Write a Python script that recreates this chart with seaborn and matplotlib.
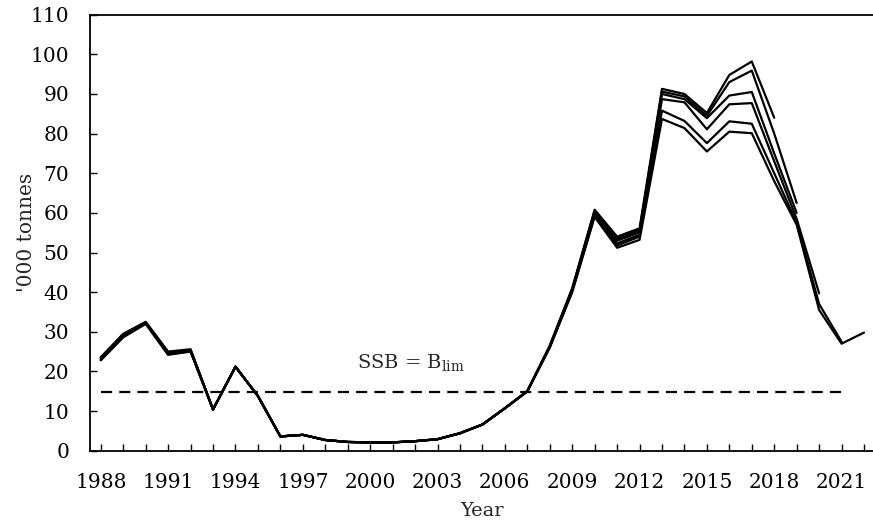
import matplotlib
matplotlib.use("Agg")
import matplotlib.pyplot as plt
import seaborn as sns
import pandas as pd

# SSB retrospective runs ('000 tonnes), each run ends in a different year
years = list(range(1988, 2023))

run_a = [23.6, 29.5, 32.5, 25.0, 25.6, 10.4, 21.2, 13.8, 3.6, 4.0, 2.7, 2.2, 2.1, 2.1, 2.4,
         2.9, 4.4, 6.6, 10.7, 15.0, 26.5, 41.0, 60.8, 54.0, 56.1, 91.3, 90.0, 85.2, 94.8,
         98.2, 84.0]
run_b = [23.4, 29.3, 32.4, 24.8, 25.4, 10.4, 21.2, 13.8, 3.6, 4.0, 2.7, 2.2, 2.1, 2.1, 2.4,
         2.9, 4.4, 6.6, 10.7, 15.0, 26.4, 40.8, 60.5, 53.5, 55.6, 90.6, 89.4, 84.5, 93.0,
         95.9, 80.0, 62.5]
run_c = [23.2, 29.1, 32.3, 24.7, 25.3, 10.4, 21.2, 13.8, 3.6, 4.0, 2.7, 2.2, 2.1, 2.1, 2.4,
         2.9, 4.4, 6.6, 10.7, 15.0, 26.3, 40.6, 60.2, 53.0, 55.1, 90.0, 88.7, 83.9, 89.6,
         90.5, 75.0, 60.0]
run_d = [23.1, 29.0, 32.2, 24.5, 25.2, 10.4, 21.2, 13.8, 3.6, 4.0, 2.7, 2.2, 2.1, 2.1, 2.4,
         2.9, 4.4, 6.6, 10.7, 15.0, 26.2, 40.4, 59.8, 52.3, 54.5, 88.7, 87.9, 81.1, 87.4,
         87.7, 73.0, 58.5, 39.7]
run_e = [22.9, 28.8, 32.1, 24.3, 25.1, 10.4, 21.2, 13.8, 3.6, 4.0, 2.7, 2.2, 2.1, 2.1, 2.4,
         2.9, 4.4, 6.6, 10.7, 15.0, 26.1, 40.2, 59.4, 51.8, 54.0, 85.8, 83.2, 77.6, 83.1,
         82.5, 70.0, 57.5, 37.0, 27.5]
run_f = [22.8, 28.6, 32.0, 24.2, 25.0, 10.4, 21.2, 13.8, 3.6, 4.0, 2.7, 2.2, 2.1, 2.1, 2.4,
         2.9, 4.4, 6.6, 10.7, 15.0, 26.0, 40.0, 59.0, 51.2, 53.2, 83.7, 81.4, 75.5, 80.5,
         80.1, 68.0, 57.0, 35.5, 27.0, 29.8]

blim = 14.7
blim_years = [1988, 2021]
tick_labels = [str(y) if (y - 1988) % 3 == 0 else "" for y in years]

runs = {"a": run_a, "b": run_b, "c": run_c, "d": run_d, "e": run_e, "f": run_f}
rows = []
for name, vals in runs.items():
    for yr, v in zip(years, vals):
        rows.append({"year": yr, "ssb": v, "run": name})
df = pd.DataFrame(rows)

sns.set_style("ticks")
plt.rcParams["font.family"] = ["DejaVu Serif"]
plt.rcParams["mathtext.fontset"] = "dejavuserif"

fig = plt.figure(figsize=(8.73, 5.22), dpi=100)
ax = fig.add_axes([0.1031, 0.1366, 0.8969, 0.8352])

sns.lineplot(data=df, x="year", y="ssb", hue="run", palette=["black"] * 6,
             legend=False, linewidth=1.6, ax=ax, sort=False)

ax.hlines(blim, blim_years[0], blim_years[1], colors="black", linewidth=1.6,
          linestyles=(0, (5, 3.2)))
ax.text(1999.4, 20.8, "SSB = B$_{\\mathrm{lim}}$", fontsize=14, va="baseline")

ax.set_xlim(1987.52, 2022.4)
ax.set_ylim(0, 110)
ax.set_xticks(years)
ax.set_xticklabels(tick_labels)
ax.set_yticks(range(0, 111, 10))
ax.tick_params(direction="in", length=5, width=1, labelsize=14.5, colors="black")
ax.tick_params(axis="x", pad=16)
ax.tick_params(axis="y", pad=15)
ax.set_xlabel("Year", fontsize=14, labelpad=7)
ax.set_ylabel("'000 tonnes", fontsize=14.5, labelpad=-4)

for side in ["left", "bottom", "top"]:
    ax.spines[side].set_color("black")
    ax.spines[side].set_linewidth(1.3)
ax.spines["right"].set_visible(False)

plt.savefig("out.png", dpi=100)
